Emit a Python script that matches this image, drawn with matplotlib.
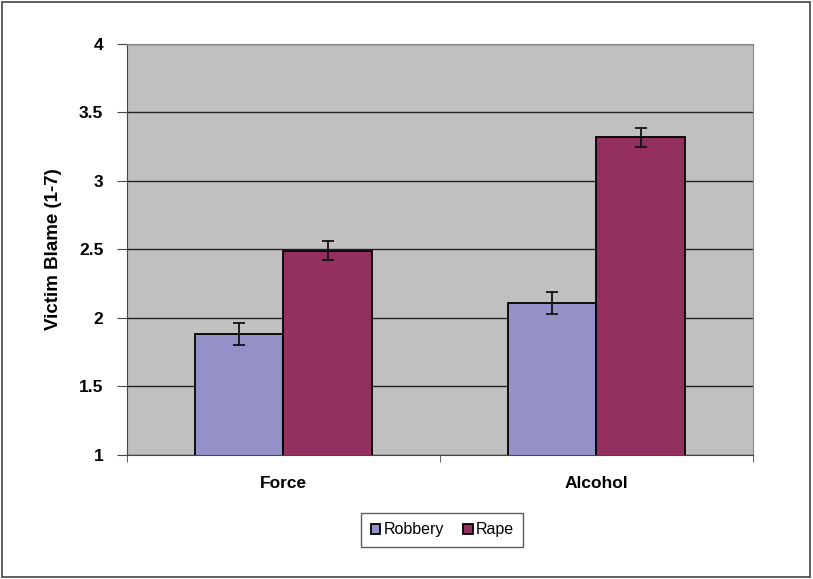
import matplotlib.pyplot as plt
from matplotlib.patches import Rectangle
import numpy as np

plt.rcParams['font.family'] = ['Liberation Sans', 'DejaVu Sans']

categories = ['Force', 'Alcohol']
robbery = [1.88, 2.11]
rape = [2.49, 3.32]
robbery_err = [0.08, 0.08]
rape_err = [0.07, 0.07]
yticks = [1, 1.5, 2, 2.5, 3, 3.5, 4]
ytick_labels = ['1', '1.5', '2', '2.5', '3', '3.5', '4']

fig = plt.figure(figsize=(8.13, 5.79), dpi=100)
ax = fig.add_axes([0.1562, 0.2142, 0.77, 0.7098])
ax.set_facecolor('#c0c0c0')

x = np.arange(len(categories))
w = 0.284
err_kw = dict(ecolor='#111111', elinewidth=1.3, capsize=4, capthick=1.3)
ax.bar(x - w / 2, robbery, w, color='#9391c8', edgecolor='black',
       linewidth=1.3, yerr=robbery_err, error_kw=err_kw, label='Robbery', zorder=3)
ax.bar(x + w / 2, rape, w, color='#93305f', edgecolor='black',
       linewidth=1.3, yerr=rape_err, error_kw=err_kw, label='Rape', zorder=3)

ax.set_xlim(-0.5, 1.5)
ax.set_ylim(1, 4)
ax.set_yticks(yticks)
ax.set_yticklabels(ytick_labels, fontsize=12.5, fontweight='bold')
ax.yaxis.grid(True, color='#222222', linewidth=1.0, zorder=1)
ax.set_axisbelow(True)

ax.set_xticks(x)
ax.set_xticklabels(categories, fontsize=12.5, fontweight='bold')
ax.tick_params(axis='x', which='major', length=0, pad=15)
ax.set_xticks([-0.5, 0.5, 1.5], minor=True)
ax.tick_params(axis='x', which='minor', length=5, direction='out', color='#444444')
ax.tick_params(axis='y', length=7, direction='out', color='#444444', pad=10)

for side in ['top', 'right']:
    ax.spines[side].set_color('#888888')
for side in ['left', 'bottom']:
    ax.spines[side].set_color('#444444')

ax.set_ylabel('Victim Blame (1-7)', fontsize=13.5, fontweight='bold', labelpad=12)

leg = fig.legend(loc='center', bbox_to_anchor=(0.544, 0.085), ncol=2, fontsize=11.5,
                 frameon=True, fancybox=False, edgecolor='#333333',
                 handlelength=0.6, handleheight=0.6, handletextpad=0.2,
                 columnspacing=1.2, borderpad=0.6)
leg.get_frame().set_linewidth(1.0)

fig.patches.append(Rectangle((0.003, 0.003), 0.993, 0.993, transform=fig.transFigure,
                             fill=False, edgecolor='#444444', linewidth=1.2))

fig.savefig('out.png', dpi=100)
